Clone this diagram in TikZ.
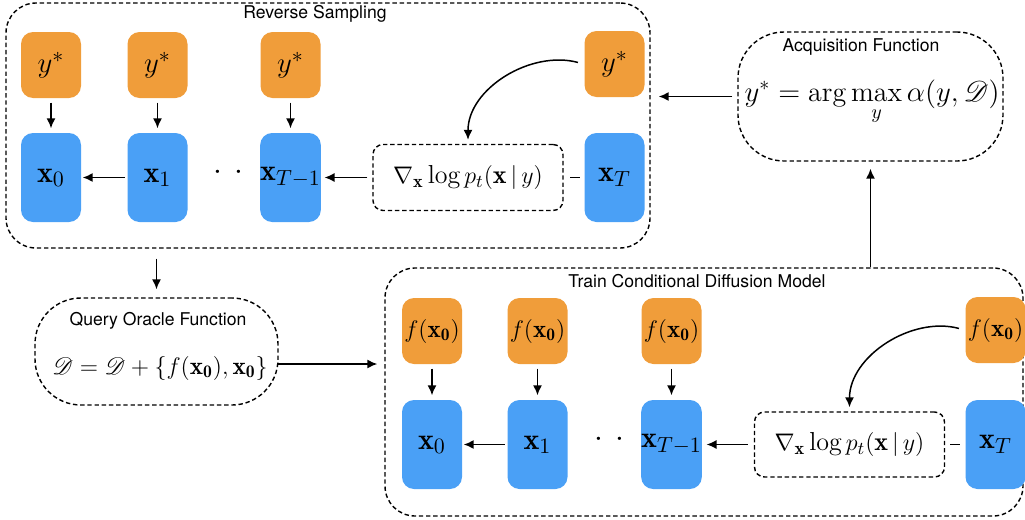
\documentclass[tikz,border=0pt]{standalone}
\usepackage{amsmath}
\usepackage{mathrsfs}
\usepackage{fontspec}
\setsansfont{TeX Gyre Heros}
\usetikzlibrary{arrows.meta}

\definecolor{boxorange}{RGB}{240,157,58}
\definecolor{boxblue}{RGB}{74,160,246}

\begin{document}
\begin{tikzpicture}[x=0.5pt, y=-0.5pt, line width=0.7pt,
  >={Latex[length=5pt,width=4.5pt]},
  panel/.style={draw, dash pattern=on 2.2pt off 1.4pt, rounded corners=15pt, inner sep=0pt},
  bubble/.style={panel, rounded corners=23pt},
  gradbox/.style={draw, dash pattern=on 2.2pt off 1.4pt, rounded corners=5pt, minimum width=95pt, minimum height=33pt, inner sep=0pt, font=\fontsize{13}{15}\selectfont},
  ybox/.style={fill=boxorange, rounded corners=6pt, minimum width=30pt, minimum height=33pt, inner sep=0pt, font=\fontsize{15}{18}\selectfont},
  fbox/.style={ybox, font=\fontsize{12.5}{15}\selectfont},
  xbox/.style={fill=boxblue, rounded corners=6pt, minimum width=30pt, minimum height=44.5pt, inner sep=0pt, font=\fontsize{15}{18}\selectfont},
  dots/.style={inner sep=0pt, font=\fontsize{20}{22}\selectfont},
  title/.style={font=\sffamily\fontsize{8.8}{10}\selectfont},
  link/.style={->, line width=0.75pt, shorten <=2pt, shorten >=2pt}]
\useasboundingbox (0,0) rectangle (1025,520);

% panels
\node[panel, minimum width=322pt, minimum height=122.5pt] (rev) at (328,125.5) {};
\node[title] (revlbl) at (315,14) {Reverse Sampling};
\node[bubble, minimum width=132.5pt, minimum height=64.5pt] (acq) at (870.5,96.5) {};
\node[title] (acqlbl) at (861,47) {Acquisition Function};
\node[anchor=base, font=\fontsize{14}{16}\selectfont] (acqform) at (872,101) {$y^{*} = \arg\max\limits_{y}\alpha(y,\mathscr{D})$};
\node[bubble, minimum width=121.5pt, minimum height=53.5pt] (query) at (156.5,351.5) {};
\node[title] (querylbl) at (158,321) {Query Oracle Function};
\node[anchor=base, font=\fontsize{12.6}{15}\selectfont] (queryform) at (160,374) {$\mathscr{D} = \mathscr{D} + \{f(\mathbf{x_0}), \mathbf{x_0}\}$};
\node[panel, minimum width=319pt, minimum height=124pt] (train) at (704,392) {};
\node[title] (trainlbl) at (697,281) {Train Conditional Diffusion Model};

% reverse sampling chain
\node[ybox] (ya0) at (51,65) {$y^{*}$};
\node[ybox] (ya1) at (157.5,65) {$y^{*}$};
\node[ybox] (ya2) at (290.5,65) {$y^{*}$};
\node[ybox] (ya3) at (614.5,64) {$y^{*}$};
\node[xbox] (xa0) at (51,177.5) {$\mathbf{x}_0$};
\node[xbox] (xa1) at (157.5,177.5) {$\mathbf{x}_1$};
\node[dots] (da) at (228.5,177.5) {\textperiodcentered\hspace{-4pt}\textperiodcentered};
\node[xbox] (xa2) at (290.5,177.5) {$\mathbf{x}_{T-1}$};
\node[gradbox] (ga) at (468,177.5) {$\nabla_{\mathbf{x}}\log p_t(\mathbf{x}\,|\,y)$};
\node[xbox] (xa3) at (614.5,177.5) {$\mathbf{x}_T$};
\draw[link] (ya0) -- (xa0);
\draw[link] (ya1) -- (xa1);
\draw[link] (ya2) -- (xa2);
\draw[link, shorten <=1pt, shorten >=0.5pt] (xa1) -- (xa0);
\draw[link, shorten <=2.5pt, shorten >=1.5pt] (ga) -- (xa2);
\draw[line width=0.75pt, shorten <=2pt, shorten >=3pt] (xa3) -- (ga);
\draw[link, shorten <=3pt] (ya3.west) to[out=165, in=90] (ga.north);

% training chain
\node[fbox] (fb0) at (432,331) {$f(\mathbf{x_0})$};
\node[fbox] (fb1) at (537.5,331) {$f(\mathbf{x_0})$};
\node[fbox] (fb2) at (671.5,331) {$f(\mathbf{x_0})$};
\node[fbox] (fb3) at (995.5,330) {$f(\mathbf{x_0})$};
\node[xbox] (xb0) at (432,444.5) {$\mathbf{x}_0$};
\node[xbox] (xb1) at (537.5,444.5) {$\mathbf{x}_1$};
\node[dots] (db) at (609.5,444.5) {\textperiodcentered\hspace{-4pt}\textperiodcentered};
\node[xbox] (xb2) at (671.5,444.5) {$\mathbf{x}_{T-1}$};
\node[gradbox, minimum height=32.5pt] (gb) at (849.5,444.5) {$\nabla_{\mathbf{x}}\log p_t(\mathbf{x}\,|\,y)$};
\node[xbox] (xb3) at (995.5,444.5) {$\mathbf{x}_T$};
\draw[link] (fb0) -- (xb0);
\draw[link] (fb1) -- (xb1);
\draw[link] (fb2) -- (xb2);
\draw[link, shorten <=1pt, shorten >=0.5pt] (xb1) -- (xb0);
\draw[link, shorten <=3pt, shorten >=2pt] (gb) -- (xb2);
\draw[line width=0.75pt, shorten <=2.5pt, shorten >=2.5pt] (xb3) -- (gb);
\draw[link, shorten <=3pt] (fb3.west) to[out=165, in=90] (gb.north);

% loop between the panels
\draw[link, shorten <=2.5pt, shorten >=4pt] (acq.west) -- (acq.west -| rev.east);
\draw[link, shorten <=0pt, shorten >=3.5pt] (acq.south |- train.north) -- (acq.south);
\draw[link, shorten <=5pt, shorten >=4pt] (rev.south -| query.north) -- (query.north);
\draw[link, shorten <=1pt, shorten >=3.5pt] ([yshift=2pt]queryform.east) -- ([yshift=2pt]queryform.east -| train.west);
\end{tikzpicture}
\end{document}
